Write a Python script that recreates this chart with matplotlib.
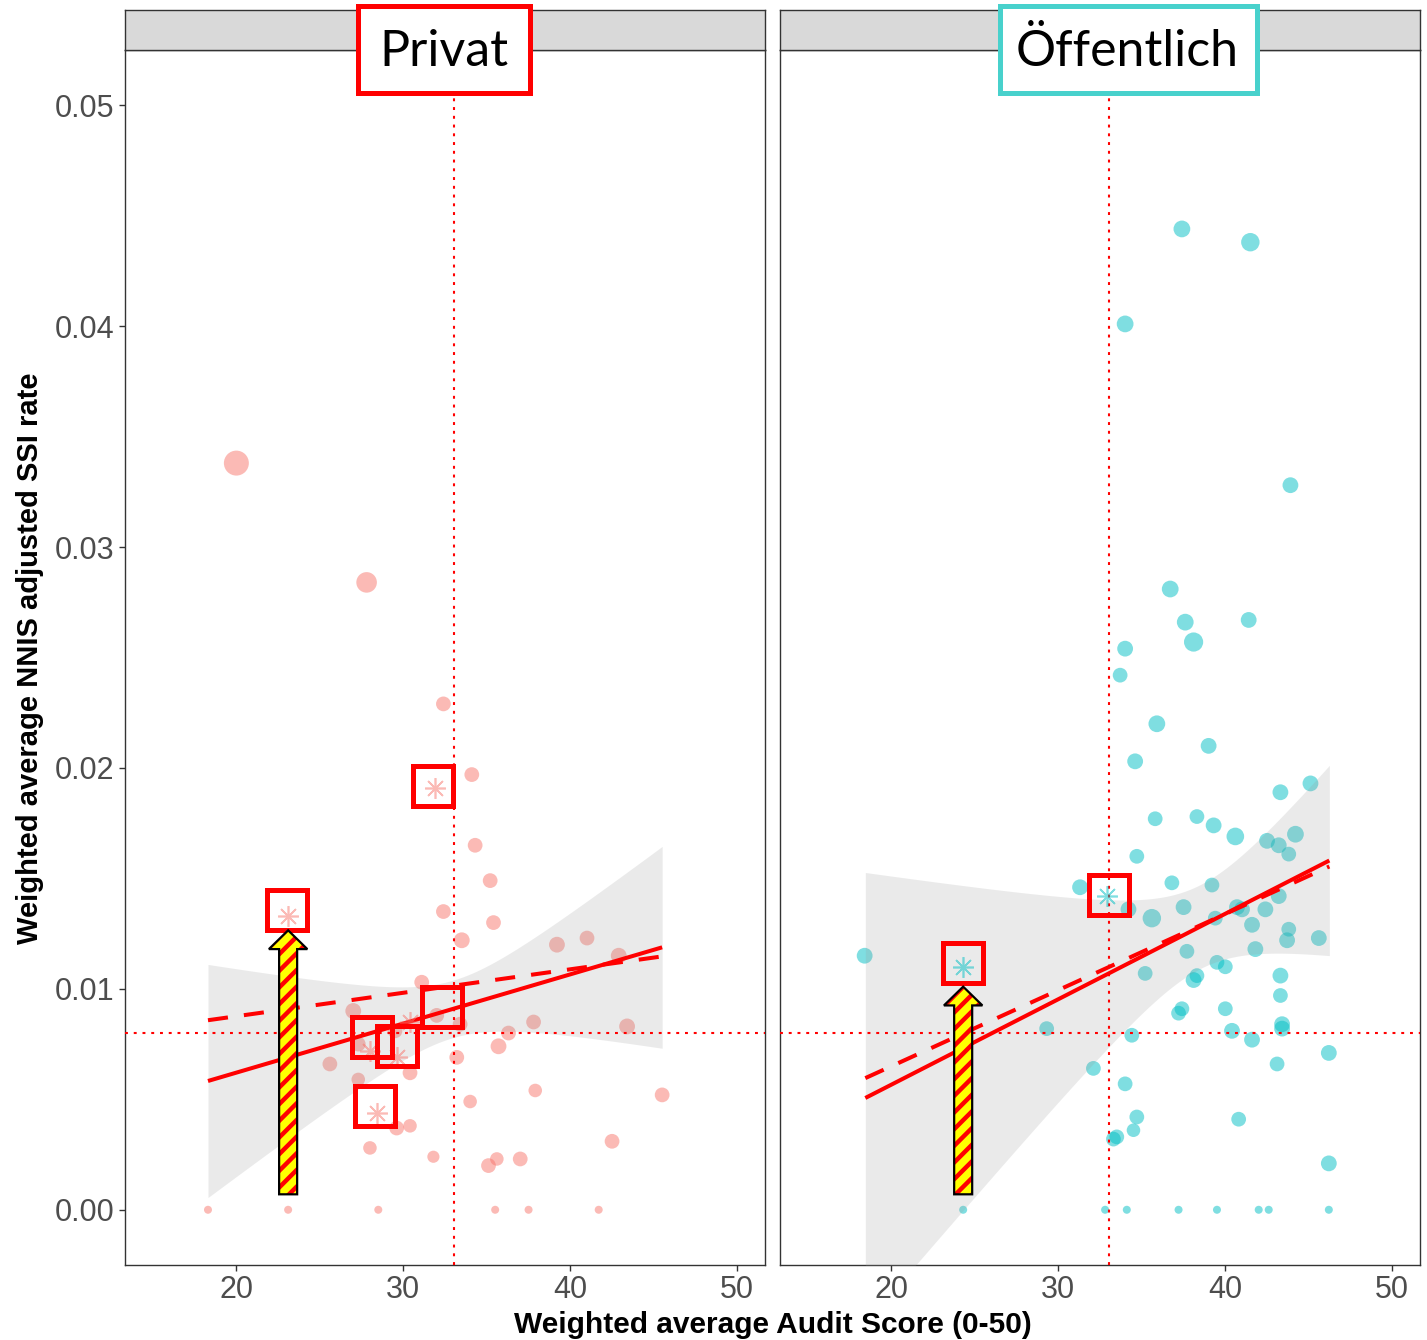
import numpy as np
import matplotlib
matplotlib.use("Agg")
import matplotlib.pyplot as plt
from matplotlib.patches import FancyArrow, Rectangle

# ---------------- data ----------------
panel_names = ["Privat", "Öffentlich"]

priv_x = [20.0, 27.8, 32.4, 34.1, 34.3, 35.2, 32.4, 35.4, 33.5, 39.2, 41.0, 42.9,
          31.1, 27.0, 32.0, 33.4, 37.8, 43.4, 36.3, 27.3, 29.5, 35.7, 33.2, 25.6,
          30.4, 27.3, 37.9, 45.5, 34.0, 29.6, 30.4, 28.0, 31.8, 42.5, 35.6, 35.1,
          37.0, 18.3, 23.1, 28.5, 35.5, 37.5, 41.7]
priv_y = [0.0338, 0.0284, 0.0229, 0.0197, 0.0165, 0.0149, 0.0135, 0.0130, 0.0122,
          0.0120, 0.0123, 0.0115, 0.0103, 0.0090, 0.0088, 0.0084, 0.0085, 0.0083,
          0.0080, 0.0075, 0.0081, 0.0074, 0.0069, 0.0066, 0.0062, 0.0059, 0.0054,
          0.0052, 0.0049, 0.0037, 0.0038, 0.0028, 0.0024, 0.0031, 0.0023, 0.0020,
          0.0023, 0.0, 0.0, 0.0, 0.0, 0.0, 0.0]
priv_w = [20, 12, 5, 5, 5, 5, 5, 5, 6, 6, 5, 6, 5, 6, 5, 5, 5, 6, 5, 5, 5, 6, 5, 5,
          5, 4, 4, 5, 4, 5, 4, 4, 3, 5, 4, 5, 5, 1, 1, 1, 1, 1, 1]

pub_x = [37.4, 41.5, 34.0, 43.9, 36.7, 37.6, 41.4, 38.1, 34.0, 33.7, 35.9, 39.0,
         34.6, 45.1, 43.3, 35.8, 38.3, 39.3, 40.6, 42.5, 43.2, 44.2, 43.8, 34.7,
         31.3, 36.8, 39.2, 34.2, 35.6, 37.5, 40.7, 42.4, 43.2, 41.0, 41.6, 43.8,
         39.4, 43.7, 45.6, 41.8, 37.7, 35.2, 38.3, 38.1, 39.5, 40.0, 43.3, 43.3,
         37.4, 37.2, 40.0, 43.4, 43.4, 40.4, 29.3, 34.4, 41.6, 46.2, 32.1, 43.1,
         34.0, 34.7, 34.5, 33.5, 33.3, 40.8, 46.2, 18.4,
         24.3, 32.8, 34.1, 37.2, 39.5, 42.0, 42.6, 46.2]
pub_y = [0.0444, 0.0438, 0.0401, 0.0328, 0.0281, 0.0266, 0.0267, 0.0257, 0.0254,
         0.0242, 0.0220, 0.0210, 0.0203, 0.0193, 0.0189, 0.0177, 0.0178, 0.0174,
         0.0169, 0.0167, 0.0165, 0.0170, 0.0161, 0.0160, 0.0146, 0.0148, 0.0147,
         0.0136, 0.0132, 0.0137, 0.0137, 0.0136, 0.0142, 0.0136, 0.0129, 0.0127,
         0.0132, 0.0122, 0.0123, 0.0118, 0.0117, 0.0107, 0.0106, 0.0104, 0.0112,
         0.0110, 0.0106, 0.0097, 0.0091, 0.0089, 0.0091, 0.0084, 0.0082, 0.0081,
         0.0082, 0.0079, 0.0077, 0.0071, 0.0064, 0.0066, 0.0057, 0.0042, 0.0036,
         0.0033, 0.0032, 0.0041, 0.0021, 0.0115,
         0.0, 0.0, 0.0, 0.0, 0.0, 0.0, 0.0, 0.0]
pub_w = [7, 9, 7, 6, 7, 7, 6, 10, 6, 5, 7, 6, 6, 6, 6, 5, 5, 6, 8, 6, 6, 7, 5, 5,
         6, 5, 5, 6, 9, 6, 6, 6, 6, 6, 6, 5, 5, 6, 6, 6, 5, 5, 5, 6, 5, 5, 6, 5,
         5, 5, 5, 6, 6, 6, 5, 5, 6, 6, 5, 5, 5, 5, 4, 5, 5, 5, 6, 6,
         1, 1, 1, 1, 1, 1, 1, 1]

# highlighted hospitals (asterisks) and the boxes drawn round them
priv_star_x = [31.9, 23.1, 28.0, 29.6, 28.4, 30.4]
priv_star_y = [0.0191, 0.0133, 0.0072, 0.0069, 0.0044, 0.0085]
priv_box_x = [31.8, 23.05, 28.1, 29.6, 32.3, 28.3]
priv_box_y = [0.0192, 0.01355, 0.0078, 0.0074, 0.0092, 0.0047]
pub_star_x = [32.9, 24.3]
pub_star_y = [0.0142, 0.0110]
pub_box_x = [33.05, 24.3]
pub_box_y = [0.01423, 0.01116]

# fitted lines (solid: weighted fit, dashed: second fit) at the ends of the data range
priv_fit_x = [18.3, 45.5]
priv_fit_solid = [0.00583, 0.01188]
priv_fit_dashed = [0.00858, 0.01147]
pub_fit_x = [18.44, 46.23]
pub_fit_solid = [0.00506, 0.01581]
pub_fit_dashed = [0.00596, 0.01554]
# confidence band: centre of data, half-width at centre, growth
priv_ci = (32.95, 0.0013, 3.49e-4)
pub_ci = (38.5, 0.0019, 5.0e-4)

# arrows: x position, tail, tip
priv_arrow = (23.1, 0.0007, 0.01265)
pub_arrow = (24.3, 0.0007, 0.0101)

ref_y = 0.008
ref_x = 33.05

x_ticks = [20, 30, 40, 50]
y_ticks = [0.00, 0.01, 0.02, 0.03, 0.04, 0.05]
y_ticklabels = ["0.00", "0.01", "0.02", "0.03", "0.04", "0.05"]

# ---------------- figure ----------------
plt.rcParams["font.family"] = ["Liberation Sans", "DejaVu Sans"]
plt.rcParams["hatch.linewidth"] = 3.2

W, H = 1427, 1340
fig = plt.figure(figsize=(W / 100, H / 100), dpi=100)

def fx(px):
    return px / W

def fy(py):
    return 1 - py / H

panel_left = [125, 780]
panel_w = 640
top, bottom = 50, 1265
strip_top = 10

colors = ["#F8766D", "#00BFC4"]
xlim = (13.33, 51.66)
ylim = (-0.0025, 0.0525)

def diam(w):
    return 8 * np.asarray(w, dtype=float) ** 0.38  # pixels

data = [
    (priv_x, priv_y, priv_w, priv_star_x, priv_star_y, priv_box_x, priv_box_y,
     priv_fit_x, priv_fit_solid, priv_fit_dashed, priv_ci, priv_arrow),
    (pub_x, pub_y, pub_w, pub_star_x, pub_star_y, pub_box_x, pub_box_y,
     pub_fit_x, pub_fit_solid, pub_fit_dashed, pub_ci, pub_arrow),
]

for i, (xs, ys, ws, sx, sy, bx, by, fitx, fsol, fdash, ci, arr) in enumerate(data):
    ax = fig.add_axes([fx(panel_left[i]), fy(bottom), panel_w / W, (bottom - top) / H])
    ax.set_xlim(*xlim)
    ax.set_ylim(*ylim)
    col = colors[i]

    d = diam(ws)
    ax.scatter(xs, ys, s=(d * 0.72) ** 2, color=col, alpha=0.5, linewidths=0, zorder=2)

    # confidence band
    xx = np.linspace(fitx[0], fitx[1], 200)
    slope = (fsol[1] - fsol[0]) / (fitx[1] - fitx[0])
    line = fsol[0] + slope * (xx - fitx[0])
    half = np.sqrt(ci[1] ** 2 + (ci[2] * (xx - ci[0])) ** 2)
    ax.fill_between(xx, line - half, line + half, color="#999999", alpha=0.2,
                    linewidth=0, zorder=3)
    ax.plot(fitx, fsol, color="red", lw=2.9, solid_capstyle="butt", zorder=4)
    ax.plot(fitx, fdash, color="red", lw=2.9, dashes=(5, 4), dash_capstyle="butt", zorder=4)

    # reference lines
    ax.axhline(ref_y, color="red", lw=1.5, ls=(0, (1.4, 2.8)), zorder=5)
    ax.axvline(ref_x, color="red", lw=1.5, ls=(0, (1.4, 2.8)), zorder=5)

    # highlighted points
    ax.plot(sx, sy, ls="none", marker=(8, 2, 0), ms=15, mew=1.2, color=col,
            alpha=0.5, zorder=6)
    ax.plot(bx, by, ls="none", marker="s", ms=29, mfc="none", mec="red", mew=3.6,
            zorder=7)

    # striped arrow
    ax_x, tail, tip = arr
    geom = dict(x=ax_x, y=tail, dx=0, dy=tip - tail, width=1.08, head_width=2.3,
                head_length=0.00085, length_includes_head=True)
    ax.add_patch(FancyArrow(**geom, facecolor="yellow", edgecolor="none", zorder=8))
    ax.add_patch(FancyArrow(**geom, facecolor="none", edgecolor="red", hatch="//",
                            linewidth=0, zorder=9))
    ax.add_patch(FancyArrow(**geom, facecolor="none", edgecolor="black", linewidth=1.6,
                            zorder=10))

    for sp in ax.spines.values():
        sp.set_color("#333333")
        sp.set_linewidth(1.0)
    ax.set_xticks(x_ticks)
    ax.set_xticklabels([str(t) for t in x_ticks])
    ax.tick_params(axis="both", which="both", direction="out", length=4.5, width=1.0,
                   color="#333333", labelsize=22, labelcolor="#4D4D4D", pad=3)
    if i == 0:
        ax.set_yticks(y_ticks)
        ax.set_yticklabels(y_ticklabels)
    else:
        ax.set_yticks([])

    # strip
    sax = fig.add_axes([fx(panel_left[i]), fy(top), panel_w / W, (top - strip_top) / H])
    sax.set_facecolor("#D9D9D9")
    sax.set_xticks([])
    sax.set_yticks([])
    for sp in sax.spines.values():
        sp.set_color("#333333")
        sp.set_linewidth(1.0)

# strip labels in coloured boxes
label_boxes = [(358, 530, "red"), (1000, 1257, "#48D1CC")]
label_centres = [444, 1127]
for name, (x0, x1, ec), xc in zip(panel_names, label_boxes, label_centres):
    fig.add_artist(Rectangle((fx(x0), fy(93)), (x1 - x0) / W, 87 / H,
                             transform=fig.transFigure, facecolor="white",
                             edgecolor=ec, linewidth=3.6, zorder=20))
    fig.text(fx(xc), fy(52), name, ha="center", va="center", fontsize=36,
             family=["Lato", "DejaVu Sans"], color="black", zorder=21)

fig.text(fx(773), fy(1325), "Weighted average Audit Score (0-50)", ha="center",
         va="center", fontsize=21.5, fontweight="bold", color="black")
fig.text(fx(30), fy(658), "Weighted average NNIS adjusted SSI rate", ha="center",
         va="center", rotation=90, fontsize=21, fontweight="bold", color="black")

fig.savefig("out.png", dpi=100)
